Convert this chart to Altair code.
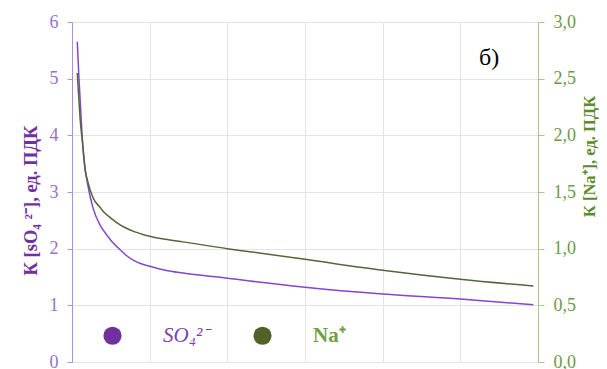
import altair as alt
import pandas as pd

x_vals = [0.068, 0.09, 0.11, 0.13, 0.17, 0.2, 0.27, 0.36, 0.4, 0.5, 0.62, 0.7,
          0.8, 0.9, 1.0, 1.2, 1.43, 2.0, 2.29, 3.0, 4.0, 5.0, 5.94]
so4_vals = [5.65, 5.0, 4.5, 4.0, 3.4, 3.15, 2.72, 2.42, 2.33, 2.15, 1.98, 1.88,
            1.79, 1.73, 1.69, 1.62, 1.57, 1.48, 1.43, 1.32, 1.2, 1.11, 1.01]
na_vals = [2.55, 2.3, 2.1, 1.97, 1.69, 1.6, 1.45, 1.365, 1.33, 1.27, 1.21, 1.18,
           1.15, 1.128, 1.11, 1.083, 1.06, 1.0, 0.973, 0.906, 0.81, 0.73, 0.67]
series_names = ["SO₄²⁻", "Na⁺"]
series_colors = ["#8546cc", "#55663a"]

df_so4 = pd.DataFrame({"x": x_vals, "v": so4_vals, "s": series_names[0]})
df_na = pd.DataFrame({"x": x_vals, "v": na_vals, "s": series_names[1]})

SERIF = "Liberation Serif"
GRID = "#e4e4e4"

xenc = alt.X("x:Q", scale=alt.Scale(domain=[0, 6], nice=False),
             axis=alt.Axis(title=None, labels=False, ticks=False, domain=False,
                           grid=True, gridColor=GRID, values=[0, 1, 2, 3, 4, 5, 6]))

color = alt.Color("s:N", scale=alt.Scale(domain=series_names, range=series_colors),
                  legend=alt.Legend(
                      title=None, orient="none", direction="horizontal",
                      legendX=30, legendY=303,
                      symbolType="circle", symbolSize=330,
                      symbolFillColor={"expr": "datum.index == 0 ? '#7030a0' : '#4f6228'"},
                      symbolStrokeWidth=0,
                      labelFont=SERIF, labelFontSize=21,
                      labelExpr="indexof(datum.label, 'Na') >= 0 ? '\u2003\u2009' + datum.label : datum.label",
                      labelColor={"expr": "datum.index == 0 ? '#7a3fb0' : '#70a040'"},
                      labelFontStyle={"expr": "datum.index == 0 ? 'italic' : 'normal'"},
                      labelFontWeight={"expr": "datum.index == 0 ? 'normal' : 'bold'"},
                      labelOffset=40, columnPadding=42, symbolOffset=0))

left = alt.Chart(df_so4).mark_line(strokeWidth=1.5, interpolate="monotone").encode(
    x=xenc,
    y=alt.Y("v:Q", scale=alt.Scale(domain=[0, 6], nice=False),
            axis=alt.Axis(title="К [sO₄ ²⁻], ед. ПДК", orient="left", values=[0, 1, 2, 3, 4, 5, 6],
                          grid=True, gridColor=GRID,
                          domainColor="#b48ae0", tickColor="#b48ae0", tickSize=5,
                          labelFont=SERIF, labelFontSize=18, labelColor="#9473c8", labelPadding=9,
                          titleFont=SERIF, titleFontSize=18.5, titleFontWeight="bold",
                          titleColor="#7030a0", titleX=-42, titleY=178,
                          titleAlign="center", titleBaseline="middle", titleAngle=270)),
    color=color,
)

right = alt.Chart(df_na).mark_line(strokeWidth=1.5, interpolate="monotone").encode(
    x=xenc,
    y=alt.Y("v:Q", scale=alt.Scale(domain=[0, 3], nice=False),
            axis=alt.Axis(title="К [Na⁺], ед. ПДК", orient="right",
                          values=[0, 0.5, 1, 1.5, 2, 2.5, 3], format=".1f",
                          labelExpr="replace(datum.label, '.', ',')",
                          grid=False,
                          domainColor="#a9c48a", tickColor="#a9c48a", tickSize=6,
                          labelFont=SERIF, labelFontSize=18, labelColor="#6b9a45", labelPadding=9,
                          titleFont=SERIF, titleFontSize=16.5, titleFontWeight="bold",
                          titleColor="#5c8a2c", titleAngle=270, titleX=51, titleY=134,
                          titleAlign="center", titleBaseline="middle")),
    color=color,
)

label = alt.Chart(pd.DataFrame({"t": ["б)"]})).mark_text(
    font=SERIF, fontSize=24, color="#000000", align="left", baseline="middle"
).encode(text="t:N", x=alt.value(407), y=alt.value(36))

chart = alt.layer(left, right, label).resolve_scale(y="independent").properties(
    width=466, height=340,
    autosize=alt.AutoSizeParams(type="none"),
    padding={"left": 64, "top": 14, "right": 61, "bottom": 10},
).configure_view(stroke=None)

chart.save("out.html", embed_options={"renderer": "svg", "actions": False})
